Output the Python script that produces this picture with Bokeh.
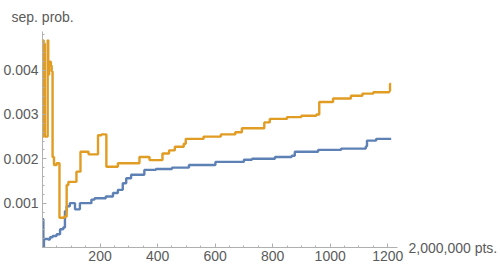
from bokeh.plotting import figure
from bokeh.models import Range1d, SingleIntervalTicker, PrintfTickFormatter, LinearAxis, FixedTicker
from bokeh.embed import file_html
from bokeh.resources import INLINE

# ---- data (x in points / 2,000,000 ; y = separation probability) ----
orange_x = [0, 2, 4, 6, 8, 18, 20, 23, 29, 32, 35, 40, 49, 59, 76, 84, 90, 118, 132, 160,
            193, 205, 222, 262, 337, 372, 417, 440, 460, 491, 498, 560, 620, 670, 693, 771,
            790, 850, 900, 952, 962, 1010, 1072, 1112, 1150, 1205, 1208, 1212]
orange_y = [2.49, 4.67, 2.7, 4.6, 2.5, 4.67, 3.9, 4.19, 4.1, 3.97, 2.04, 1.86, 1.9, 0.67,
            0.7, 1.41, 1.48, 1.71, 2.16, 2.1, 2.53, 2.55, 1.82, 1.9, 2.04, 1.97, 2.12, 2.19,
            2.27, 2.34, 2.45, 2.5, 2.55, 2.6, 2.69, 2.82, 2.9, 2.94, 2.97, 3.0, 3.28, 3.36,
            3.42, 3.47, 3.5, 3.53, 3.69, 3.69]
blue_x = [0, 1, 3, 5, 20, 26, 35, 49, 61, 72, 78, 84, 95, 113, 130, 170, 181, 220, 245,
          262, 279, 291, 308, 354, 394, 450, 509, 601, 700, 728, 808, 866, 877, 958, 1038,
          1124, 1128, 1160, 1212]
blue_y = [0.0, 0.64, 0.0, 0.19, 0.18, 0.23, 0.26, 0.3, 0.41, 0.45, 0.82, 0.93, 1.0, 0.86,
          1.0, 1.08, 1.11, 1.15, 1.23, 1.3, 1.45, 1.56, 1.64, 1.75, 1.77, 1.8, 1.86, 1.93,
          1.98, 2.0, 2.04, 2.07, 2.16, 2.2, 2.23, 2.28, 2.41, 2.45, 2.45]
orange_y = [v / 1000 for v in orange_y]
blue_y = [v / 1000 for v in blue_y]

x_label = "2,000,000 pts."
y_label = "sep. prob."

label_color = "#5a5a5a"
axis_color = "#b0b0b0"
font = "Liberation Sans"
fsize = "14px"

p = figure(width=500, height=271, output_backend="svg", toolbar_location=None,
           margin=(0, 0, 0, 0),
           x_range=Range1d(0, 1234), y_range=Range1d(0, 0.00487),
           min_border_left=39, min_border_right=103, min_border_top=28, min_border_bottom=24,
           title=y_label)
p.title.align = "left"
p.title.offset = -31
p.title.text_font = font
p.title.text_font_size = fsize
p.title.text_font_style = "normal"
p.title.text_color = label_color
p.title.standoff = 13

p.outline_line_color = None
p.grid.grid_line_color = None
p.background_fill_color = "white"

p.step(blue_x, blue_y, mode="after", line_color="#5E81B5", line_width=2.4)
p.step(orange_x, orange_y, mode="after", line_color="#E19C24", line_width=2.4)

for ax in (p.xaxis[0], p.yaxis[0]):
    ax.axis_line_color = axis_color
    ax.major_tick_line_color = axis_color
    ax.minor_tick_line_color = axis_color
    ax.major_tick_in = 4
    ax.major_tick_out = 0
    ax.minor_tick_in = 2
    ax.minor_tick_out = 0
    ax.major_label_text_color = label_color
    ax.major_label_text_font = font
    ax.major_label_text_font_size = fsize

p.xaxis[0].major_label_standoff = 3
p.yaxis[0].major_label_standoff = 4
p.xaxis[0].ticker = SingleIntervalTicker(interval=200, num_minor_ticks=4)
p.yaxis[0].ticker = SingleIntervalTicker(interval=0.001, num_minor_ticks=5)
p.yaxis[0].formatter = PrintfTickFormatter(format="%.3f")
p.xaxis[0].major_label_overrides = {0: ""}
p.yaxis[0].major_label_overrides = {0: ""}

# x-axis caption placed at the right end of the x axis (y = 0)
cap = LinearAxis(ticker=FixedTicker(ticks=[0]), major_label_overrides={0: x_label},
                 axis_line_color=None, major_tick_line_color=None, minor_tick_line_color=None,
                 major_tick_in=0, major_tick_out=0, major_label_standoff=11,
                 major_label_text_color=label_color, major_label_text_font=font,
                 major_label_text_font_size=fsize)
p.add_layout(cap, "right")

open("out.html", "w").write(file_html(p, INLINE))
